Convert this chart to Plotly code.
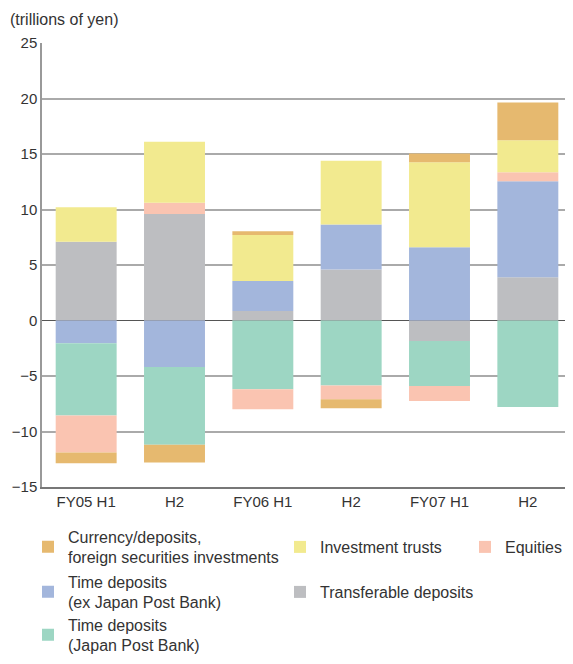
import plotly.graph_objects as go

periods = ["FY05 H1", "H2", "FY06 H1", "H2", "FY07 H1", "H2"]
x_pos = [0, 1, 2, 3, 4, 5]

transferable = [7.1, 9.6, 0.85, 4.6, -1.85, 3.9]
time_dep_ex = [-2.05, -4.2, 2.7, 4.05, 6.6, 8.65]
time_dep_jpb = [-6.5, -7.0, -6.2, -5.85, -4.05, -7.8]
equities = [-3.35, 1.0, -1.8, -1.25, -1.35, 0.8]
inv_trusts = [3.1, 5.5, 4.15, 5.75, 7.65, 2.9]
currency = [-0.95, -1.6, 0.35, -0.8, 0.8, 3.4]

y_ticks = [25, 20, 15, 10, 5, 0, -5, -10, -15]

# (name, values, colour, legend id) in stacking order
series = [
    ("Transferable deposits", transferable, "#BDBEC1", "legend5"),
    ("Time deposits<br>(ex Japan Post Bank)", time_dep_ex, "#A3B6DC", "legend4"),
    ("Time deposits<br>(Japan Post Bank)", time_dep_jpb, "#9DD6C3", "legend6"),
    ("Equities", equities, "#FAC4B1", "legend3"),
    ("Investment trusts", inv_trusts, "#F2EA8F", "legend2"),
    ("Currency/deposits,<br>foreign securities investments", currency, "#E6B96F", "legend"),
]

fig = go.Figure()
for name, vals, color, leg in series:
    fig.add_trace(go.Bar(
        x=x_pos, y=vals, name=name, marker=dict(color=color, line=dict(width=0)),
        width=0.69, legend=leg,
    ))

font_family = "Liberation Sans, Arial, sans-serif"
txt = "#333333"
# page body has an 8px margin: keep the figure inside the window
W, H = 557, 648
ML, MT, MB = 34, 35, 169
PW = W - ML
PH = H - MT - MB
slot = 530.0 / 6.0

def leg_at(px, py):
    return dict(
        orientation="h", bgcolor="rgba(0,0,0,0)", borderwidth=0,
        font=dict(family=font_family, size=16, color=txt),
        xref="container", yref="container",
        x=px / W, y=(H - py) / H, xanchor="left", yanchor="middle",
    )

col_x = [20, 272, 457]
row_y = [539, 584, 627]

fig.update_layout(
    width=W, height=H,
    margin=dict(l=ML, r=0, t=MT, b=MB, pad=0),
    paper_bgcolor="white", plot_bgcolor="white",
    barmode="relative",
    font=dict(family=font_family, size=15, color=txt),
    showlegend=True,
    legend=leg_at(col_x[0], row_y[0]),
    legend2=leg_at(col_x[1], row_y[0]),
    legend3=leg_at(col_x[2], row_y[0]),
    legend4=leg_at(col_x[0], row_y[1]),
    legend5=leg_at(col_x[1], row_y[1]),
    legend6=leg_at(col_x[0], row_y[2]),
    xaxis=dict(
        range=[-0.5, -0.5 + PW / slot], tickvals=x_pos, ticktext=periods,
        showgrid=False, showline=True, linecolor="#777777", linewidth=1.5,
        ticks="", tickfont=dict(size=15, color=txt), zeroline=False,
    ),
    yaxis=dict(
        range=[-15, 25], tickvals=y_ticks, showgrid=True, gridcolor="#AAAAAA",
        gridwidth=1.5, showline=True, linecolor="#999999", linewidth=1.5,
        zeroline=True, zerolinecolor="#555555", zerolinewidth=1.2,
        ticks="", tickfont=dict(size=15, color=txt),
    ),
    annotations=[dict(
        text="(trillions of yen)", xref="paper", yref="paper",
        x=(0 - ML) / PW, y=(MT + PH - 12) / PH, xanchor="left", yanchor="middle",
        showarrow=False, font=dict(size=16, color=txt),
    )],
)

fig.write_html("out.html")
